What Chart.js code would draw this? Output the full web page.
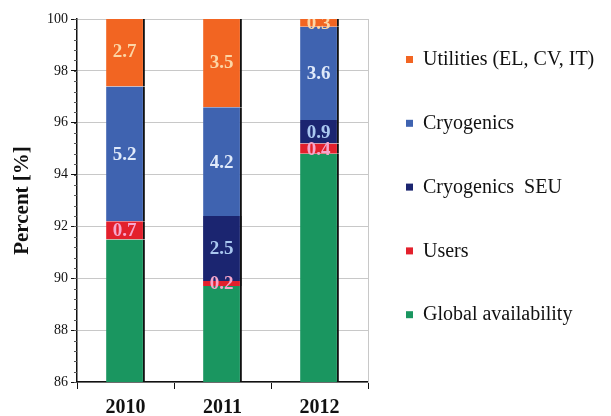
<!DOCTYPE html>
<html>
<head>
<meta charset="utf-8">
<script src="https://cdn.jsdelivr.net/npm/chart.js@4"></script>
<style>
html,body{margin:0;padding:0;background:#fff;}
#wrap{width:611px;height:416px;}
</style>
</head>
<body>
<div id="wrap"><canvas id="c" width="611" height="416"></canvas></div>
<script>
const years=["2010","2011","2012"];
const globalAvail=[91.5,89.7,94.8];
const users=[0.7,0.2,0.4];
const cryoSEU=[0,2.5,0.9];
const cryo=[5.2,4.2,3.6];
const utilities=[2.7,3.5,0.3];

const serif="'Liberation Serif','Times New Roman',serif";

/* labels inside the segments */
const segLabels={
id:"segLabels",
afterDatasetsDraw(chart){
const ctx=chart.ctx, a=chart.chartArea;
ctx.save();
ctx.beginPath();
ctx.rect(a.left,a.top,a.right-a.left,a.bottom-a.top);
ctx.clip();
ctx.font="bold 19px "+serif;
ctx.textAlign="center";
ctx.textBaseline="middle";
chart.data.datasets.forEach((ds,i)=>{
chart.getDatasetMeta(i).data.forEach((bar,j)=>{
const v=ds.data[j];
if(!v) return;
ctx.fillStyle=ds.labelColor;
ctx.fillText(v.toFixed(1),bar.x-1,(bar.y+bar.base)/2+1);
});
});
ctx.restore();
}
};

/* short minor ticks on the y axis */
const minorTicks={
id:"minorTicks",
afterDraw(chart){
const s=chart.scales.y, ctx=chart.ctx;
ctx.save();
ctx.strokeStyle="#555";
ctx.lineWidth=1;
for(let k=0;k<=35;k++){
const y=Math.round(s.getPixelForValue(86+k*0.4))+0.5;
ctx.beginPath();
ctx.moveTo(s.right-3,y);
ctx.lineTo(s.right,y);
ctx.stroke();
}
ctx.restore();
}
};

/* legend on the right, top series first */
const sideLegend={
id:"sideLegend",
afterDraw(chart){
const ctx=chart.ctx, a=chart.chartArea;
const sets=chart.data.datasets.slice().reverse();
ctx.save();
ctx.font="20px "+serif;
ctx.textAlign="left";
ctx.textBaseline="middle";
sets.forEach((ds,i)=>{
const y=a.top+41+i*63.8;
ctx.fillStyle=ds.backgroundColor;
ctx.fillRect(a.right+38,y-4,7,7);
ctx.fillStyle="#111";
ctx.fillText(ds.label,a.right+55,y);
});
ctx.restore();
}
};

function ds(label,data,color,labelColor){
return {label:label,data:data,backgroundColor:color,labelColor:labelColor,
borderColor:"#111",borderWidth:{top:0,right:2,bottom:0,left:0},borderSkipped:false,
categoryPercentage:1,barPercentage:0.4};
}

new Chart(document.getElementById("c"),{
type:"bar",
data:{
labels:years,
datasets:[
ds("Global availability",globalAvail,"#1a9660","#d2f0c4"),
ds("Users",users,"#e3202c","#f6a6cc"),
ds("Cryogenics  SEU",cryoSEU,"#1b2570","#aac8f0"),
ds("Cryogenics",cryo,"#3f63b0","#e0eafa"),
ds("Utilities (EL, CV, IT)",utilities,"#f26522","#fcd6a6")
]
},
options:{
responsive:false,
animation:false,
layout:{padding:{left:0,top:19,right:242,bottom:0}},
plugins:{
tooltip:{enabled:false},
legend:{display:false}
},
scales:{
x:{
stacked:true,
afterFit(s){s.height=34;},
grid:{drawOnChartArea:false,color:"#111",tickLength:7},
border:{color:"#111",width:1.5},
ticks:{color:"#111",font:{family:serif,size:20,weight:"bold"},padding:7}
},
y:{
stacked:true,
min:86,max:100,
afterFit(s){s.width=77;},
grid:{color:"#c8c8c8",tickColor:"#111",tickLength:6},
border:{color:"#111",width:1.5},
ticks:{stepSize:2,color:"#111",font:{family:serif,size:14},padding:3},
title:{display:true,text:"Percent [%]",color:"#111",padding:{top:10,bottom:0},
font:{family:serif,size:21,weight:"bold"}}
},
y2:{
position:"right",
min:86,max:100,
afterFit(s){s.width=1;},
grid:{display:false},
ticks:{display:false},
border:{color:"#c8c8c8",width:1}
}
}
},
plugins:[segLabels,minorTicks,sideLegend]
});
</script>
</body>
</html>
